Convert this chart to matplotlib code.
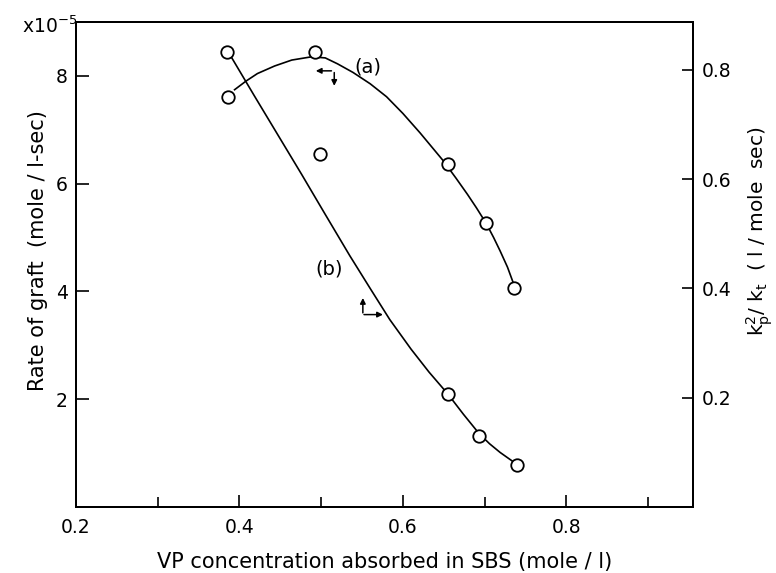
import matplotlib.pyplot as plt

# markers
x_a = [0.386, 0.492, 0.655, 0.702, 0.736]
rate_a = [7.61, 8.44, 6.37, 5.26, 4.07]
x_extra = [0.498]
rate_extra = [6.54]
x_b = [0.385, 0.655, 0.693, 0.740]
k_b = [0.833, 0.207, 0.130, 0.077]

# hand drawn curves
curve_a_x = [0.394, 0.408, 0.422, 0.443, 0.464, 0.488, 0.505, 0.520, 0.539, 0.560, 0.580,
             0.600, 0.621, 0.649, 0.665, 0.679, 0.690, 0.702, 0.711, 0.719, 0.728, 0.736]
curve_a_y = [7.74, 7.90, 8.04, 8.18, 8.29, 8.35, 8.33, 8.22, 8.06, 7.85, 7.61,
             7.30, 6.94, 6.43, 6.10, 5.80, 5.55, 5.26, 5.00, 4.75, 4.45, 4.12]
curve_b_x = [0.389, 0.418, 0.447, 0.476, 0.504, 0.535, 0.560, 0.584, 0.610, 0.632,
             0.655, 0.674, 0.693, 0.706, 0.719, 0.736]
curve_b_y = [0.826, 0.753, 0.681, 0.609, 0.538, 0.460, 0.400, 0.343, 0.289, 0.247,
             0.207, 0.170, 0.135, 0.116, 0.100, 0.082]

plt.rcParams['font.family'] = 'DejaVu Sans'
fig = plt.figure(figsize=(7.76, 5.73), dpi=100)
ax = fig.add_axes([0.098, 0.115, 0.795, 0.847])
ax2 = ax.twinx()

ax.plot(curve_a_x, curve_a_y, 'k-', lw=1.2, solid_joinstyle='round')
ax.plot(x_a, rate_a, 'o', ms=9, mfc='white', mec='k', mew=1.3)
ax.plot(x_extra, rate_extra, 'o', ms=9, mfc='white', mec='k', mew=1.3)
ax2.plot(curve_b_x, curve_b_y, 'k-', lw=1.2, solid_joinstyle='round')
ax2.plot(x_b, k_b, 'o', ms=9, mfc='white', mec='k', mew=1.3)

ax.set_xlim(0.2, 0.955)
ax.set_ylim(0, 9)
ax2.set_ylim(0, 0.888)

ax.set_xticks([0.2, 0.4, 0.6, 0.8])
ax.set_xticks([0.3, 0.5, 0.7, 0.9], minor=True)
ax.set_yticks([2, 4, 6, 8])
ax2.set_yticks([0.2, 0.4, 0.6, 0.8])
ax.tick_params(axis='x', direction='in', length=9, width=1.2, labelsize=13.5, pad=8)
ax.tick_params(axis='x', which='minor', direction='in', length=7, width=1.2)
ax.tick_params(axis='y', direction='in', length=9, width=1.2, labelsize=13.5, pad=6)
ax2.tick_params(axis='y', direction='in', length=8, width=1.2, labelsize=13.5, pad=6)
for sp in list(ax.spines.values()) + list(ax2.spines.values()):
    sp.set_linewidth(1.4)

ax.set_xlabel('VP concentration absorbed in SBS (mole / l)', fontsize=15)
ax.xaxis.set_label_coords(0.5, -0.093)
ax.set_ylabel('Rate of graft  (mole / l-sec)', fontsize=15)
ax.yaxis.set_label_coords(-0.046, 0.528)
ax2.set_ylabel('k$_\\mathrm{p}^\\mathrm{2}$/ k$_\\mathrm{t}$  ( l / mole  sec)', fontsize=14.5)
ax2.yaxis.set_label_coords(1.083, 0.569)

fig.text(0.028, 0.955, 'x10$^{-5}$', fontsize=13.5, ha='left', va='center')

ax.text(0.557, 8.17, '(a)', fontsize=14, ha='center', va='center')
ax.text(0.510, 4.41, '(b)', fontsize=14, ha='center', va='center')

# direction arrows
ax.annotate('', xy=(0.490, 8.09), xytext=(0.516, 8.09),
            arrowprops=dict(arrowstyle='-|>', color='k', lw=1.1, mutation_scale=8))
ax.annotate('', xy=(0.516, 7.76), xytext=(0.516, 8.11),
            arrowprops=dict(arrowstyle='-|>', color='k', lw=1.1, mutation_scale=8))
ax.annotate('', xy=(0.551, 3.93), xytext=(0.551, 3.55),
            arrowprops=dict(arrowstyle='-|>', color='k', lw=1.1, mutation_scale=8))
ax.annotate('', xy=(0.579, 3.57), xytext=(0.549, 3.57),
            arrowprops=dict(arrowstyle='-|>', color='k', lw=1.1, mutation_scale=8))

fig.savefig('out.png', dpi=100)
